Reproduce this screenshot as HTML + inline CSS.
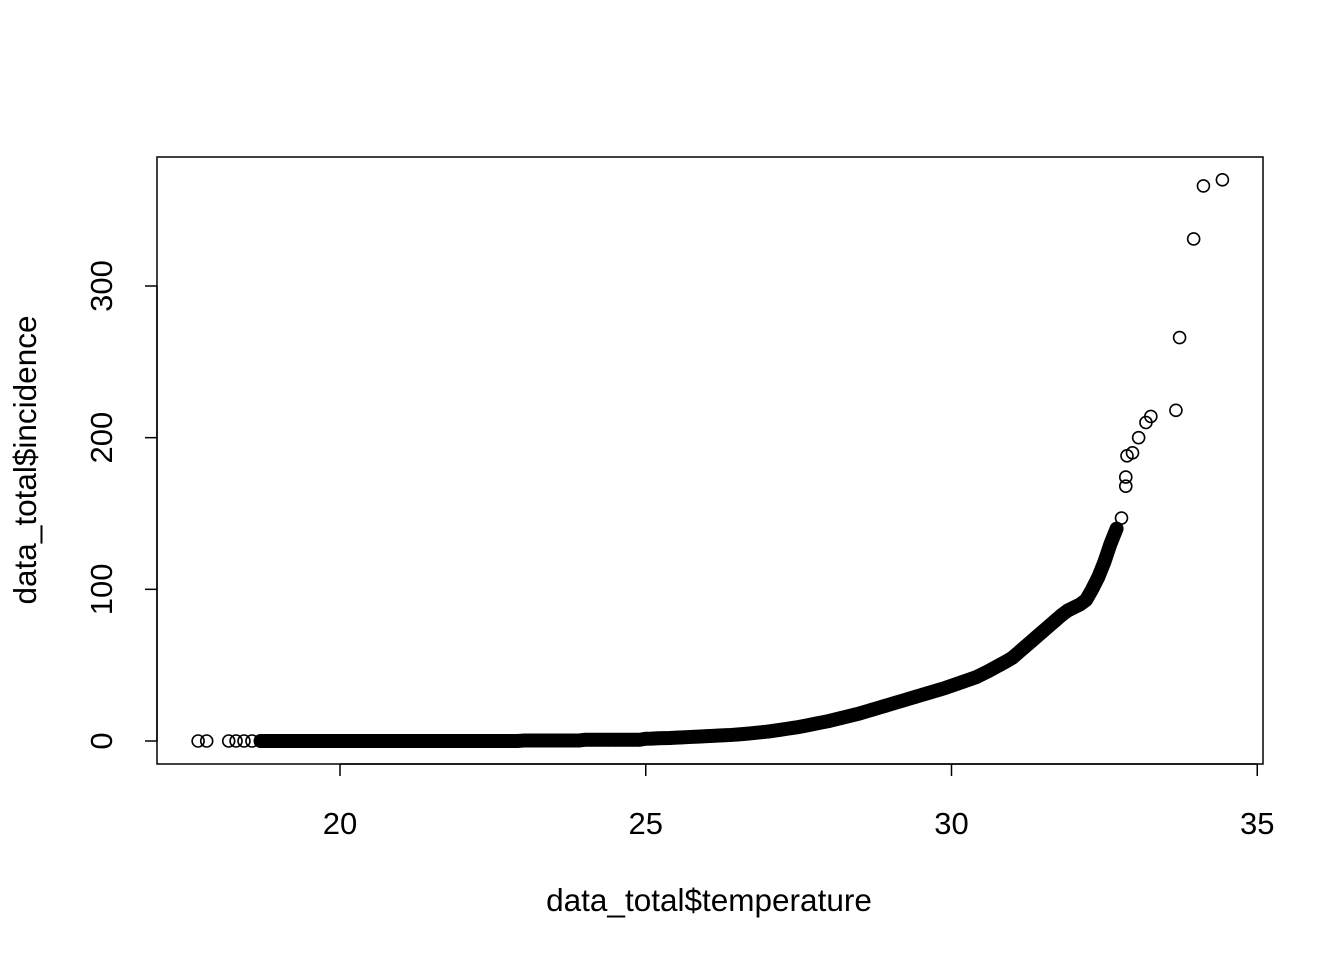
<!DOCTYPE html>
<html><head><meta charset="utf-8"><style>
html,body{margin:0;padding:0;background:#fff;}
svg{display:block;font-family:"Liberation Sans",Arial,sans-serif;}
</style></head><body>
<svg id="chart" width="1344" height="960" viewBox="0 0 1344 960" xmlns="http://www.w3.org/2000/svg">
<rect x="157" y="157" width="1106" height="607" fill="none" stroke="#000" stroke-width="1.5"/>
<g id="xaxis"></g>
<g id="yaxis"></g>
<g id="marks"></g>
<text x="709" y="911" font-size="31.5" text-anchor="middle">data_total$temperature</text>
<text transform="translate(36,460) rotate(-90)" font-size="31.5" text-anchor="middle">data_total$incidence</text>
</svg>
<script>
const xTicks = [20, 25, 30, 35];
const yTicks = [0, 100, 200, 300];
const curveTemps = [18.7,18.8,18.9,19.0,19.1,19.2,19.3,19.4,19.5,19.6,19.7,19.8,19.9,20.0,20.1,20.2,20.3,20.4,20.5,20.6,20.7,20.8,20.9,21.0,21.1,21.2,21.3,21.4,21.5,21.6,21.7,21.8,21.9,22.0,22.1,22.2,22.3,22.4,22.5,22.6,22.7,22.8,22.9,
23.0,23.1,23.2,23.3,23.4,23.5,23.6,23.7,23.8,23.9,24.0,24.1,24.2,24.3,24.4,24.5,24.6,24.7,24.8,24.9,
25.0,25.1,25.2,25.3,25.4,25.5,25.6,25.7,25.8,25.9,26.0,26.1,26.2,26.3,26.4,26.5,26.6,26.7,26.8,26.9,
27.0,27.1,27.2,27.3,27.4,27.5,27.6,27.7,27.8,27.9,28.0,28.1,28.2,28.3,28.4,28.5,28.6,28.7,28.8,28.9,
29.0,29.1,29.2,29.3,29.4,29.5,29.6,29.7,29.8,29.9,30.0,30.1,30.2,30.3,30.4,30.5,30.6,30.7,30.8,30.9,
31.0,31.1,31.2,31.3,31.4,31.5,31.6,31.7,31.8,31.9,32.0,32.1,32.2,32.3,32.4,32.5,32.6,32.7];
const curveIncidence = [0,0,0,0,0,0,0,0,0,0,0,0,0,0,0,0,0,0,0,0,0,0,0,0,0,0,0,0,0,0,0,0,0,0,0,0,0,0,0,0,0,0,0,
0.3,0.3,0.3,0.3,0.3,0.3,0.3,0.3,0.3,0.3,0.8,0.8,0.8,0.8,0.8,0.8,0.8,0.8,0.8,0.8,
1.5,1.6,1.8,1.9,2,2.2,2.4,2.6,2.8,3,3.2,3.4,3.6,3.8,4,4.3,4.6,5,5.4,5.8,
6.2,6.8,7.4,8,8.6,9.2,10,10.8,11.6,12.4,13.2,14.2,15.2,16.2,17.2,18.2,19.4,20.6,21.8,23,
24.2,25.4,26.6,27.8,29,30.2,31.4,32.6,33.8,35,36.4,37.8,39.2,40.6,42,44,46,48.2,50.4,52.6,
55,58.5,62,65.5,69,72.5,76,79.5,83,86,88,90,93,100,108,118,130,140];
const outlierTemps = [17.68,17.82,18.18,18.3,18.43,18.56,32.78,32.85,32.85,32.87,32.96,33.06,33.18,33.26,33.67,33.73,33.96,34.12,34.43];
const outlierIncidence = [0,0,0,0,0,0,147,168,174,188,190,200,210,214,218,266,331,366,370];

const NS = "http://www.w3.org/2000/svg";
function sx(t){ return 340 + (t - 20) * 61.15; }
function sy(v){ return 741 - v * 1.5167; }
const xa = document.getElementById('xaxis'), ya = document.getElementById('yaxis'), mk = document.getElementById('marks');
function mkEl(tag, attrs, parent){ const e = document.createElementNS(NS, tag); for (const k in attrs) e.setAttribute(k, attrs[k]); parent.appendChild(e); return e; }

let l = mkEl('line', {x1: sx(xTicks[0]), x2: sx(xTicks[xTicks.length-1]), y1: 764, y2: 764, stroke: '#000', 'stroke-width': 1.5}, xa);


xTicks.forEach(t => {
  const tk = mkEl('line', {x1: sx(t), x2: sx(t), y1: 764, y2: 776, stroke: '#000', 'stroke-width': 1.5}, xa);
  
  
  const tx = mkEl('text', {x: sx(t), y: 834, 'font-size': 31, 'text-anchor': 'middle'}, xa);
  tx.textContent = t;
  
  
});
l = mkEl('line', {x1: 157, x2: 157, y1: sy(yTicks[0]), y2: sy(yTicks[yTicks.length-1]), stroke: '#000', 'stroke-width': 1.5}, ya);


yTicks.forEach(v => {
  const tk = mkEl('line', {x1: 145, x2: 157, y1: sy(v), y2: sy(v), stroke: '#000', 'stroke-width': 1.5}, ya);
  
  
  const tx = mkEl('text', {transform: 'translate(112,' + sy(v) + ') rotate(-90)', 'font-size': 31, 'text-anchor': 'middle'}, ya);
  tx.textContent = v;
  
  
});
const pts = curveTemps.map((t, i) => sx(t) + ',' + sy(curveIncidence[i])).join(' ');
const band = mkEl('polyline', {points: pts, fill: 'none', stroke: '#000', 'stroke-width': 14, 'stroke-linejoin': 'round', 'stroke-linecap': 'round'}, mk);


curveTemps.forEach((t, i) => {
  const c = mkEl('circle', {cx: sx(t), cy: sy(curveIncidence[i]), r: 6, fill: 'none', stroke: '#000', 'stroke-width': 1.6}, mk);
  
  
});
outlierTemps.forEach((t, i) => {
  const c = mkEl('circle', {cx: sx(t), cy: sy(outlierIncidence[i]), r: 6, fill: 'none', stroke: '#000', 'stroke-width': 1.6}, mk);
  
  
});
</script>
</body></html>
